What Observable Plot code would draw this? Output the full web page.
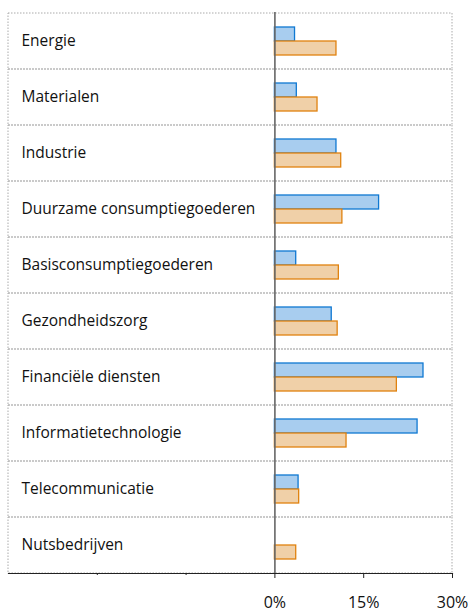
<!DOCTYPE html>
<html>
<head>
<meta charset="utf-8">
<script src="https://cdn.jsdelivr.net/npm/d3@7"></script>
<script src="https://cdn.jsdelivr.net/npm/@observablehq/plot@0.6"></script>
<style>
  html, body { margin: 0; padding: 0; background: #fff; }
  #chart svg { display: block; }
</style>
</head>
<body>
<div id="chart"></div>
<script>
const categories = [
  "Energie", "Materialen", "Industrie", "Duurzame consumptiegoederen",
  "Basisconsumptiegoederen", "Gezondheidszorg", "Financiële diensten",
  "Informatietechnologie", "Telecommunicatie", "Nutsbedrijven"
];
const seriesA = [3.4, 3.7, 10.4, 17.6, 3.6, 9.6, 25.1, 24.1, 4.0, 0];
const seriesB = [10.4, 7.2, 11.2, 11.4, 10.8, 10.6, 20.6, 12.1, 4.1, 3.6];
const xDomain = [-45, 30];
const majorTicks = [0, 15, 30];
const minorTicks = [-30, -15];

const rows = categories.map((c, i) => ({cat: c, a: seriesA[i], b: seriesB[i]}));

const chart = Plot.plot({
  width: 469,
  height: 612,
  marginLeft: 8,
  marginRight: 17,
  marginTop: 12,
  marginBottom: 39,
  style: {fontFamily: "'Open Sans', sans-serif", background: "#fff"},
  x: {domain: xDomain, axis: null},
  y: {domain: categories, padding: 0, axis: null},
  marks: [
    Plot.barX(categories, {y: d => d, x1: xDomain[0], x2: xDomain[1], fill: "none", stroke: "#aaa", strokeDasharray: "1.5,1.5", strokeWidth: 1}),
    Plot.barX(rows, {y: "cat", x: "a", fill: "#a8cdef", stroke: "#0f78d2", strokeWidth: 1.3, insetTop: 14, insetBottom: 28}),
    Plot.barX(rows, {y: "cat", x: "b", fill: "#f0d0a8", stroke: "#e0820f", strokeWidth: 1.3, insetTop: 28, insetBottom: 14}),
    Plot.ruleX([0], {stroke: "#666", strokeWidth: 1.6}),
    Plot.frame({anchor: "bottom", stroke: "#222", strokeWidth: 1.2}),
    Plot.text(categories, {y: d => d, x: xDomain[0], dx: 13, text: d => d, textAnchor: "start", fontSize: 15.5, fill: "#111"}),
    Plot.axisX(majorTicks, {tickSize: 5, tickPadding: 18, tickFormat: d => d + "%", fontSize: 16, stroke: "#222", fill: "#111"}),
    Plot.axisX(minorTicks, {tickSize: 2, tickFormat: () => "", stroke: "#222"})
  ]
});
document.getElementById("chart").appendChild(chart);
</script>
</body>
</html>
